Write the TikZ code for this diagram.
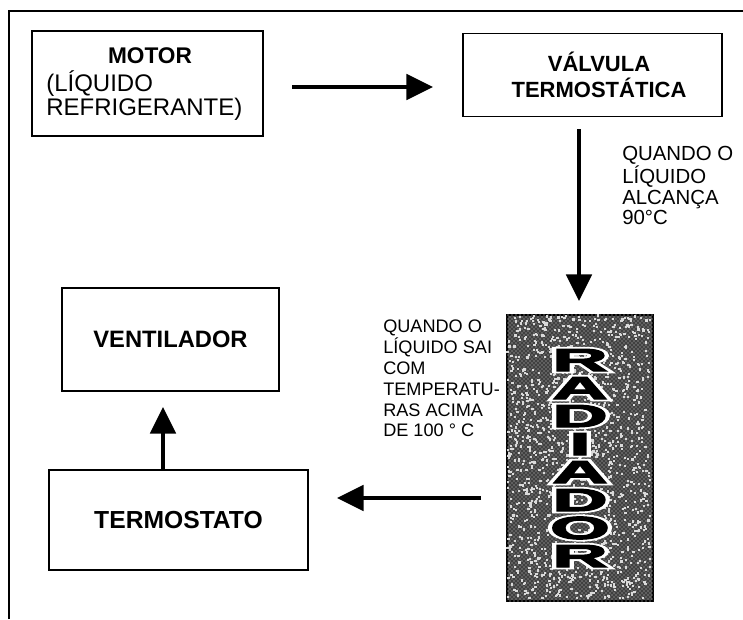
\documentclass[tikz,border=0pt]{standalone}
\usepackage{fontspec}
\setmainfont{Liberation Sans}
\newfontfamily\radhalo[FakeBold=14]{Liberation Sans Bold}
\newfontfamily\radfont[FakeBold=3]{Liberation Sans Bold}
\usetikzlibrary{arrows.meta,patterns,calc}
\begin{document}
\begin{tikzpicture}[x=0.75pt,y=-0.75pt,
  box/.style={draw,line width=0.9pt,inner sep=0pt},
  boldlabel/.style={font=\fontsize{#1}{19}\selectfont\bfseries},
  boldlabel/.default=17.5,
  plain/.style={font=\fontsize{18}{20}\selectfont,inner sep=0pt},
  note/.style={font=\fontsize{#1}{15.6}\selectfont,align=left,inner sep=0pt},
  bigarrow/.style={line width=3pt,-{Triangle[length=20pt,width=19pt]}},
  radletters/.style={align=center,inner sep=0pt,xscale=2.4}
]
\useasboundingbox (0,0) rectangle (743,619);
% frame
\draw[line width=1.6pt] (9,619) -- (9,11) -- (743,11);

% boxes
\node[box,minimum width=231*0.75pt,minimum height=105*0.75pt] (motor) at (147.5,83.5) {};
\node[boldlabel=17] (motort) at (150,55.5) {MOTOR};
\node[plain,anchor=west] (motorl1) at (46,84) {(LÍQUIDO};
\node[plain,anchor=west] (motorl2) at (46,109) {REFRIGERANTE)};

\node[box,minimum width=259*0.75pt,minimum height=83*0.75pt] (valvula) at (592.5,75) {};
\node[boldlabel=16.5,align=center,inner sep=0pt] (valvulat) at (599,75) {VÁLVULA\\TERMOSTÁTICA};

\node[box,minimum width=217*0.75pt,minimum height=103*0.75pt,boldlabel=17.8] (ventilador) at (170.5,339.5) {VENTILADOR};
\node[box,minimum width=259*0.75pt,minimum height=100*0.75pt,boldlabel=18.5] (termostato) at (178.5,520) {TERMOSTATO};

% radiator
\node[draw,line width=1pt,fill=black!75,minimum width=146*0.75pt,minimum height=286*0.75pt,inner sep=0pt] (radiador) at (580,458) {};
\fill[pattern=crosshatch dots,pattern color=white!80!black] (radiador.north west) rectangle (radiador.south east);
\pgfmathsetseed{7}
\foreach \i in {1,...,1400}{
  \fill[white!85!black] ($(radiador.north west)+(rnd*143,rnd*283)$) rectangle +(2.2,2.2);
}
\node[radletters,text=white,font=\fontsize{24}{21}\selectfont\radhalo] (radhalo) at (radiador.center) {R\\A\\D\\I\\A\\D\\O\\R};
\node[radletters,text=black,font=\fontsize{24}{21}\selectfont\radfont] (radtext) at (radiador.center) {R\\A\\D\\I\\A\\D\\O\\R};

% connectors
\coordinate (a1s) at (292,87);
\coordinate (a1e) at (433,87);
\draw[bigarrow] (a1s) -- (a1e);
\coordinate (a2s) at (579,129);
\coordinate (a2e) at (579,301);
\draw[bigarrow] (a2s) -- (a2e);
\coordinate (a3s) at (481,498);
\coordinate (a3e) at (337,498);
\draw[bigarrow] (a3s) -- (a3e);
\coordinate (a4e) at (163,407);
\draw[bigarrow] (a4e |- termostato.north) -- (a4e);

% notes
\node[note=15.3,anchor=north west] (note1) at (622,146) {QUANDO O\\LÍQUIDO\\ALCANÇA\\90°C};
\node[note=13.6,anchor=north west] (note2) at (383,320) {QUANDO O\\LÍQUIDO SAI\\COM\\TEMPERATU-\\RAS ACIMA\\DE 100 ° C};
\end{tikzpicture}
\end{document}
